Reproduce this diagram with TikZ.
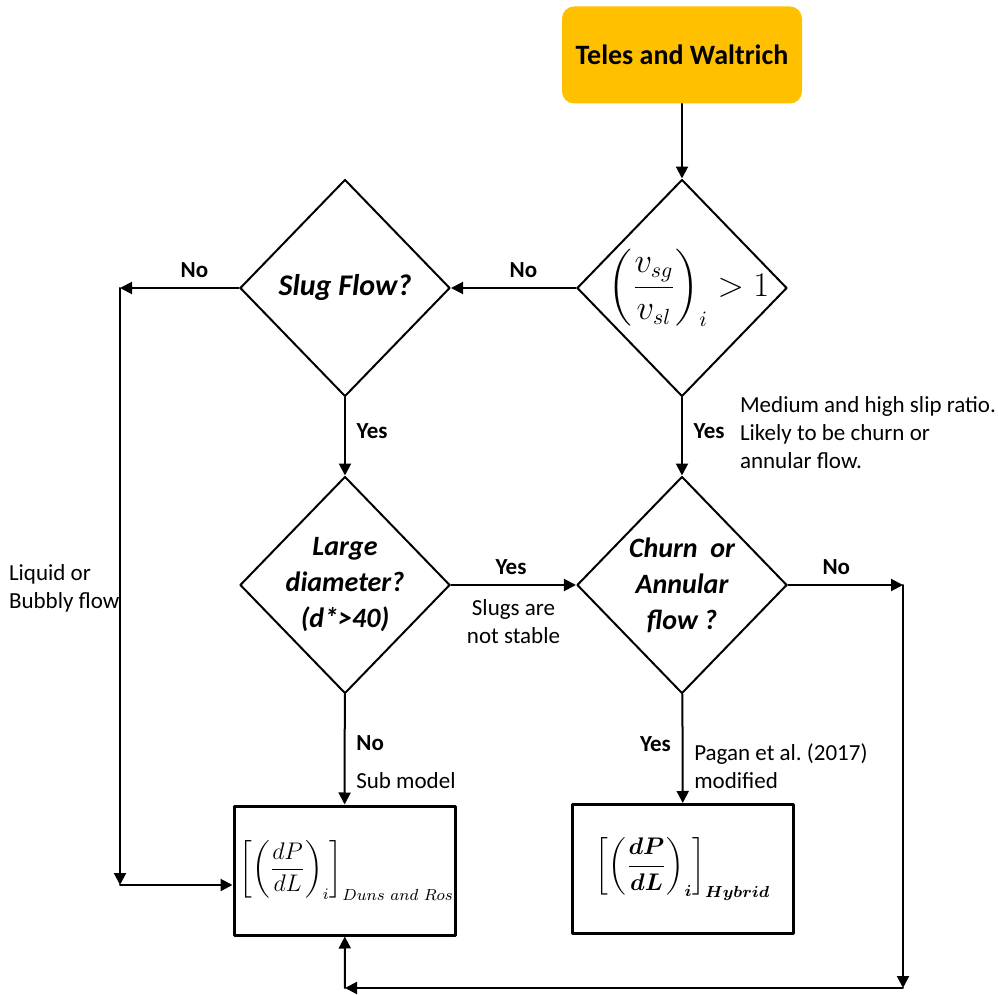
\documentclass[tikz,border=0pt]{standalone}
\usepackage{amsmath,amsfonts,amssymb}
\usepackage{fontspec}
\setmainfont{Carlito}
\usepackage{xcolor}
\usetikzlibrary{arrows.meta,shapes.geometric}

\definecolor{startfill}{RGB}{255,192,0}
\newcommand{\slipratio}{$\displaystyle\left(\frac{v_{sg}}{v_{sl}}\right)_i>1$}
\newcommand{\dunsgrad}{$\left[\left(\dfrac{dP}{dL}\right)_i\right]_{Duns\ and\ Ros}$}
\newcommand{\hybridgrad}{{\boldmath$\left[\left(\dfrac{dP}{dL}\right)_i\right]_{Hybrid}$}}
\frenchspacing

\begin{document}
\begin{tikzpicture}[line cap=round,line join=round,x=0.5pt,y=-0.5pt,
  >={Triangle[length=6pt,width=6pt]},
  decision/.style={draw,diamond,line width=1pt,minimum width=105pt,minimum height=108.5pt,inner sep=0pt},
  result/.style={draw,rectangle,line width=1.5pt,minimum width=110.5pt,minimum height=64.5pt},
  qtext/.style={font=\bfseries\itshape\fontsize{14}{18}\selectfont,align=center},
  tag/.style={font=\bfseries\fontsize{11.5}{13}\selectfont},
  note/.style={font=\fontsize{11.5}{14}\selectfont,align=left}]

\useasboundingbox (0,0) rectangle (998,995);

% start box
\node[fill=startfill,rounded corners=6pt,minimum width=120pt,minimum height=48.5pt,
  font=\bfseries\fontsize{14}{16}\selectfont] (start) at (682,55) {Teles and Waltrich};

% decisions
\node[decision,label={[font=\fontsize{16}{18}\selectfont,xshift=3.5pt]center:\slipratio}] (slip) at (682,288) {};
\node[decision,label={[qtext,font=\bfseries\itshape\fontsize{15}{18}\selectfont]center:Slug Flow?}] (slug) at (345,288) {};
\node[decision,label={[qtext]center:Large\\diameter?\\(d*>40)}] (large) at (345,585) {};
\node[decision,label={[qtext]center:Churn~ or\\Annular\\flow ?}] (churn) at (682,585) {};

% results
\node[result,label={[anchor=west,font=\large]west:\dunsgrad}] (duns) at (344.5,870.5) {};
\node[result,label={[font=\large]center:\hybridgrad}] (hybrid) at (683,869) {};

% corner points
\coordinate (lt) at (120,288);
\coordinate (lb) at (120,885);
\coordinate (rt) at (903,585);
\coordinate (rb) at (903,988);
\coordinate (bl) at (345,988);

% notes
\node[note,anchor=west] (slipnote) at (733,433) {Medium and high slip ratio.\\Likely to be churn or\\annular flow.};
\node[note,anchor=west] (bubbly) at (2,588) {Liquid or\\Bubbly flow};

% connectors
\draw [->, line width=1.pt] (start) -- (slip);
\draw [->, line width=1.pt] (slip) -- (slug) node[pos=0.42,above=1.5pt,tag] (no1) {No};
\draw [->, line width=1.pt] (slug) -- (lt) node[pos=0.375,above=1.5pt,tag] (no2) {No};
\draw [->, line width=1.pt] (lt) -- (lb);
\draw [->, line width=1.pt] (lb) -- (lb -| duns.west);
\draw [->, line width=1.pt] (slug) -- (large) node[pos=0.43,right=2pt,tag] (yes1) {Yes};
\draw [->, line width=1.pt] (slip) -- (churn) node[pos=0.43,right=2pt,tag] (yes2) {Yes};
\draw [->, line width=1.pt] (large) -- (churn) node[pos=0.48,above=1.5pt,tag] (yes3) {Yes}
  node[pos=0.5,below=3.5pt,note,align=center] (unstable) {Slugs are\\not stable};
\draw [->, line width=1.pt] (churn) -- (rt) node[pos=0.42,above=1.5pt,tag] (no3) {No};
\draw [->, line width=1.pt] (rt) -- (rb);
\draw [->, line width=1.pt] (rb) -- (bl);
\draw [->, line width=1.pt] (bl) -- (duns);
\draw [->, line width=1.pt] (large) -- (duns) node[pos=0.44,right=2pt,tag] (no4) {No}
  node[pos=0.78,right=2pt,note] (submodel) {Sub model};
\draw [->, line width=1.pt] (churn) -- (hybrid) node[pos=0.46,left=2pt,tag] (yes4) {Yes}
  node[pos=0.66,right=2pt,note] (pagan) {Pagan et al. (2017)\\modified};
\end{tikzpicture}
\end{document}
